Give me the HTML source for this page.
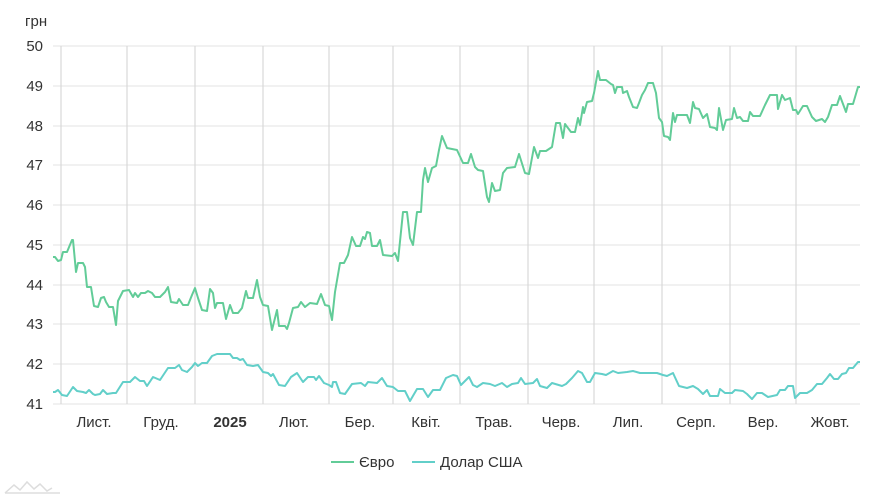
<!DOCTYPE html>
<html><head><meta charset="utf-8"><style>
html,body{margin:0;padding:0;background:#fff;}
svg{display:block;font-family:"Liberation Sans",sans-serif;}
</style></head><body>
<svg width="891" height="500" viewBox="0 0 891 500" xmlns="http://www.w3.org/2000/svg">
<g stroke="#e3e3e3" stroke-width="1">
<line x1="53" y1="46" x2="860" y2="46"/><line x1="53" y1="86" x2="860" y2="86"/><line x1="53" y1="126" x2="860" y2="126"/><line x1="53" y1="165" x2="860" y2="165"/><line x1="53" y1="205" x2="860" y2="205"/><line x1="53" y1="245" x2="860" y2="245"/><line x1="53" y1="285" x2="860" y2="285"/><line x1="53" y1="324" x2="860" y2="324"/><line x1="53" y1="364" x2="860" y2="364"/><line x1="53" y1="404" x2="860" y2="404"/>
</g>
<g stroke="#d2d2d2" stroke-width="1">
<line x1="61" y1="46" x2="61" y2="404"/><line x1="127" y1="46" x2="127" y2="404"/><line x1="195" y1="46" x2="195" y2="404"/><line x1="263" y1="46" x2="263" y2="404"/><line x1="329" y1="46" x2="329" y2="404"/><line x1="393" y1="46" x2="393" y2="404"/><line x1="460" y1="46" x2="460" y2="404"/><line x1="528" y1="46" x2="528" y2="404"/><line x1="594" y1="46" x2="594" y2="404"/><line x1="662" y1="46" x2="662" y2="404"/><line x1="730" y1="46" x2="730" y2="404"/><line x1="796" y1="46" x2="796" y2="404"/>
</g>
<g fill="#333" font-size="15" text-anchor="end">
<text x="43" y="51">50</text><text x="43" y="91">49</text><text x="43" y="131">48</text><text x="43" y="170">47</text><text x="43" y="210">46</text><text x="43" y="250">45</text><text x="43" y="290">44</text><text x="43" y="329">43</text><text x="43" y="369">42</text><text x="43" y="409">41</text>
</g>
<text x="25" y="26" fill="#333" font-size="15">грн</text>
<g fill="#333" font-size="15" text-anchor="middle">
<text x="94" y="427">Лист.</text><text x="161" y="427">Груд.</text><text x="230" y="427" font-weight="bold">2025</text><text x="294" y="427">Лют.</text><text x="360" y="427">Бер.</text><text x="426" y="427">Квіт.</text><text x="494" y="427">Трав.</text><text x="561" y="427">Черв.</text><text x="628" y="427">Лип.</text><text x="696" y="427">Серп.</text><text x="763" y="427">Вер.</text><text x="830" y="427">Жовт.</text>
</g>
<polyline fill="none" stroke="#62cc98" stroke-width="2" stroke-linejoin="round" points="53,257 55,257 58,261 61,260 63,252 67,252 72,240 73,240 76,272 78,263 83,263 85,267 87,287 91,287 94,306 98,307 101,298 104,297 106,302 109,307 113,307 116,325 118,301 123,291 129,290 133,297 135,293 138,297 141,293 145,293 148,291 152,293 155,297 160,297 165,292 168,287 171,302 177,303 179,299 183,305 188,305 192,295 195,288 198,298 202,310 207,311 210,289 213,293 215,308 217,303 223,303 226,319 230,305 233,313 238,313 242,308 246,291 248,298 253,298 257,280 260,297 263,305 268,306 272,330 277,310 279,326 285,326 287,329 289,323 293,308 298,307 301,302 305,307 310,303 317,304 321,294 325,305 329,306 332,320 335,292 340,263 344,263 348,255 352,237 356,246 360,246 363,237 365,239 367,232 370,233 372,246 377,246 380,240 383,255 392,256 395,253 398,261 403,212 407,212 410,238 413,245 417,212 421,212 423,180 425,168 428,182 432,168 436,166 439,150 442,136 447,148 457,150 463,163 468,163 471,154 475,167 478,170 483,171 487,197 489,202 492,183 495,191 500,190 503,173 507,168 515,167 519,154 525,173 529,174 534,147 538,158 540,151 546,151 552,147 556,123 560,123 563,138 565,124 571,132 575,132 578,118 580,125 583,107 584,113 587,102 592,101 594,93 598,71 600,80 606,80 611,84 613,85 615,93 617,87 622,87 623,93 627,91 629,97 633,107 637,108 639,103 642,95 645,90 648,83 653,83 656,93 659,118 662,122 664,136 668,137 670,140 673,113 675,122 677,115 687,115 690,123 693,102 695,108 699,109 703,118 707,114 710,127 715,128 717,130 719,108 723,130 726,120 732,119 734,108 737,118 740,117 743,121 748,121 750,112 753,116 760,116 765,105 770,95 777,95 778,109 782,95 785,100 790,98 793,110 796,110 798,114 803,106 807,106 812,117 816,121 822,119 825,122 828,117 832,105 837,105 840,96 846,112 848,104 853,104 858,87 860,87"/>
<polyline fill="none" stroke="#62cfc9" stroke-width="2" stroke-linejoin="round" points="53,392 55,392 58,390 62,395 67,396 73,387 77,391 83,392 86,393 89,390 93,394 95,395 100,394 103,390 107,394 113,393 116,393 123,382 130,382 135,377 140,381 144,381 147,386 153,377 160,380 168,368 175,368 179,365 182,370 187,372 192,367 195,363 198,366 202,363 207,363 212,356 217,354 230,354 233,358 237,358 240,360 243,359 247,365 253,366 258,365 263,372 268,373 271,376 273,374 279,385 285,386 291,377 297,373 303,382 308,377 314,377 316,380 319,376 324,383 329,385 332,387 333,382 336,382 340,393 345,394 352,384 361,383 365,386 368,382 377,383 382,378 387,386 393,387 398,391 405,391 410,401 417,389 423,389 428,397 433,390 440,390 446,378 453,375 457,376 461,385 465,381 469,377 473,385 477,387 483,383 490,384 495,386 502,383 507,387 512,384 518,383 521,378 525,384 533,383 537,379 540,386 547,388 552,383 562,386 566,384 572,378 578,371 582,373 587,382 590,382 595,373 602,374 606,375 613,371 618,373 627,372 633,371 640,373 657,373 663,375 667,376 673,373 679,386 687,388 693,386 698,389 703,394 707,390 710,396 718,396 720,389 725,393 732,393 735,390 743,391 747,394 752,399 757,393 762,393 768,397 777,395 780,390 785,390 788,386 793,386 795,398 800,393 807,393 812,390 817,384 822,384 827,378 830,374 834,379 838,379 842,374 846,373 849,368 853,368 858,362 860,362"/>
<line x1="331" y1="462" x2="354" y2="462" stroke="#62cc98" stroke-width="2"/>
<text x="359" y="467" fill="#333" font-size="15">Євро</text>
<line x1="412" y1="462" x2="435" y2="462" stroke="#62cfc9" stroke-width="2"/>
<text x="440" y="467" fill="#333" font-size="15">Долар США</text>
<path d="M5,493 L14,485 L20,490 L27,482 L34,489 L40,484 L47,491 L52,488" fill="none" stroke="#ddd" stroke-width="1.5"/>
<line x1="5" y1="493" x2="60" y2="493" stroke="#ddd" stroke-width="1.5"/>
</svg>
</body></html>
